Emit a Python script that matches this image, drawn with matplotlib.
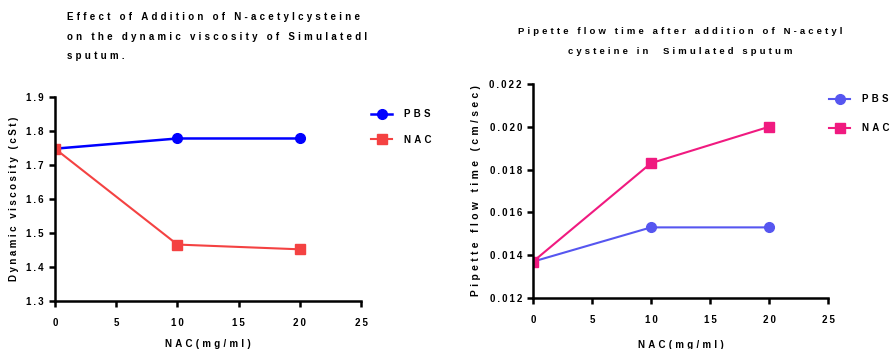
import numpy as np
import matplotlib
matplotlib.use("Agg")
import matplotlib.pyplot as plt

plt.rcParams['font.family'] = ['Liberation Sans', 'DejaVu Sans']
plt.rcParams['font.weight'] = 'bold'

nac_conc = [0, 10, 20]

visc_pbs = [1.748, 1.778, 1.778]
visc_nac = [1.748, 1.466, 1.452]

flow_pbs = [0.0137, 0.0153, 0.0153]
flow_nac = [0.0137, 0.0183, 0.0200]

left_title = ["Effect of Addition of N-acetylcysteine",
              "on the dynamic viscosity of Simulatedl",
              "sputum."]
right_title = ["Pipette flow time after addition of N-acetyl",
               "cysteine in  Simulated sputum"]
left_ylabel = "Dynamic viscosity (cSt)"
right_ylabel = "Pipette flow time (cm/sec)"
xlabel = "NAC(mg/ml)"

xticks = [0, 5, 10, 15, 20, 25]
left_yticks = [1.3, 1.4, 1.5, 1.6, 1.7, 1.8, 1.9]
right_yticks = [0.012, 0.014, 0.016, 0.018, 0.020, 0.022]


def spaced(s, sp="\u2004"):
    # Prism style wide letter spacing
    return sp.join(s)


def style_axes(ax, yticks, yfmt, xpad):
    for side in ["top", "right"]:
        ax.spines[side].set_visible(False)
    for side in ["left", "bottom"]:
        ax.spines[side].set_linewidth(1.8)
    ax.set_xlim(0, 25)
    ax.set_ylim(yticks[0], yticks[-1])
    ax.set_xticks(xticks)
    ax.set_xticklabels([spaced(str(t), "\u2009") for t in xticks])
    ax.set_yticks(yticks)
    ax.set_yticklabels([spaced(yfmt.format(t), "\u2009") for t in yticks])
    ax.tick_params(direction="out", length=4, width=1.8, labelsize=7, pad=8)
    ax.tick_params(axis="y", pad=4)
    ax.set_xlabel(spaced(xlabel), fontsize=7, fontweight="bold", labelpad=xpad)


fig = plt.figure(figsize=(8.94, 3.49), dpi=100)
W, H = 894, 349
leg_kw = dict(loc="upper left", frameon=False, handlelength=2.2,
              handletextpad=1.2, borderaxespad=0.0, prop={"weight": "bold", "size": 7})

ax1 = fig.add_axes([55 / W, 1 - 301 / H, 306 / W, 204 / H])
ax1.plot(nac_conc, visc_pbs, color="#0000ff", marker="o", markersize=7, lw=1.8, label=spaced("PBS"))
ax1.plot(nac_conc, visc_nac, color="#f44242", marker="s", markersize=7, lw=1.5, label=spaced("NAC"))
style_axes(ax1, left_yticks, "{:.1f}", 8.5)
ax1.set_ylabel(spaced(left_ylabel, "\u2005"), fontsize=7, fontweight="bold", labelpad=5)
ax1.legend(bbox_to_anchor=(1.02, 0.96), labelspacing=1.6, **leg_kw)
for i, line in enumerate(left_title):
    fig.text(67 / W, 1 - (17 + 19.5 * i) / H, spaced(line), fontsize=7, fontweight="bold",
             ha="left", va="center")

ax2 = fig.add_axes([533 / W, 1 - 298 / H, 295 / W, 214 / H])
ax2.plot(nac_conc, flow_pbs, color="#5656f0", marker="o", markersize=7, lw=1.5, label=spaced("PBS"))
ax2.plot(nac_conc, flow_nac, color="#f01a80", marker="s", markersize=7, lw=1.5, label=spaced("NAC"))
style_axes(ax2, right_yticks, "{:.3f}", 11)
ax2.set_ylabel(spaced(right_ylabel), fontsize=7.4, fontweight="bold", labelpad=6)
ax2.legend(bbox_to_anchor=(0.99, 0.97), labelspacing=1.95, **leg_kw)
for i, line in enumerate(right_title):
    fig.text(680 / W, 1 - (32 + 20 * i) / H, spaced(line), fontsize=6.8, fontweight="bold",
             ha="center", va="center")

fig.savefig("out.png", dpi=100)
plt.close(fig)
